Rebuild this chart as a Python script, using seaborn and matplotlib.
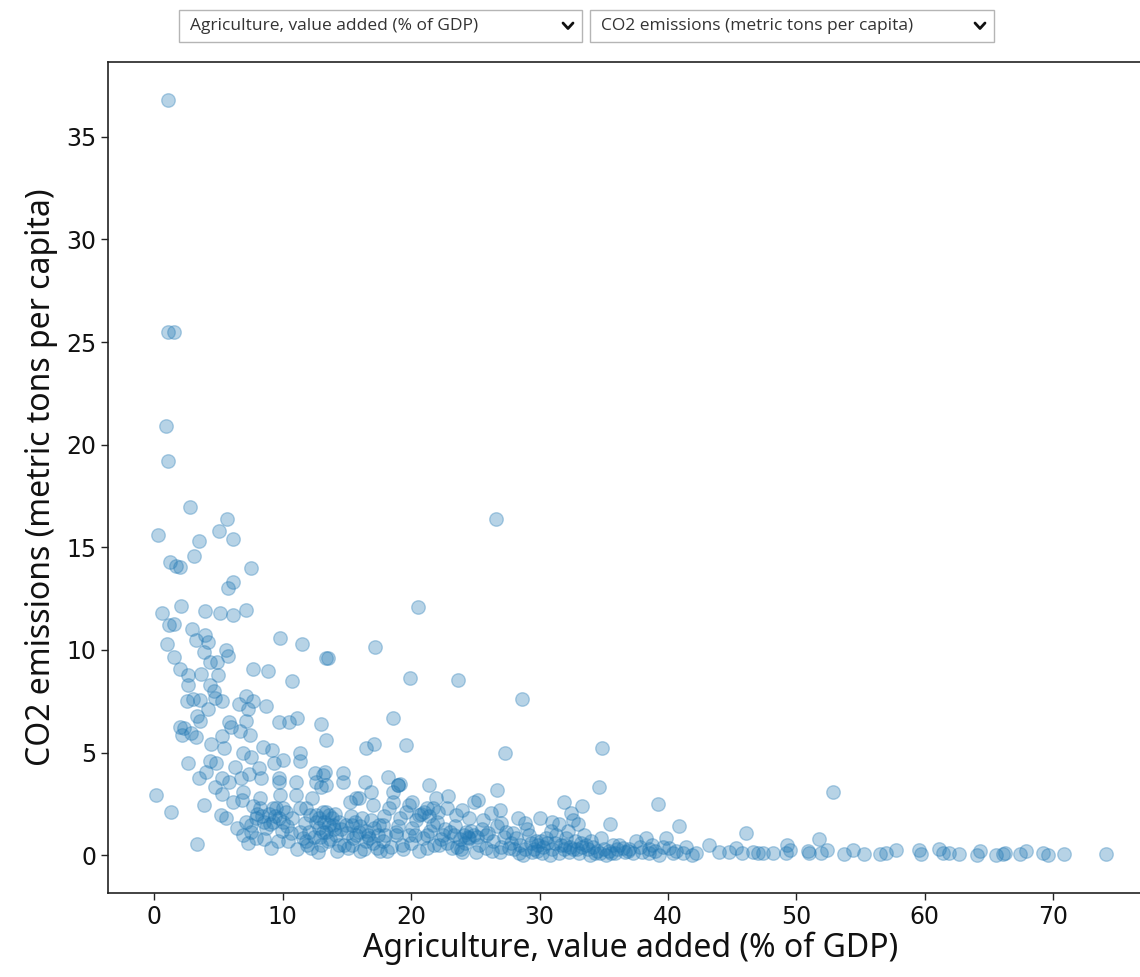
import matplotlib
matplotlib.use("Agg")
import matplotlib.pyplot as plt
from matplotlib.patches import Rectangle
from matplotlib.lines import Line2D
import seaborn as sns
import pandas as pd

# ---- data: (agriculture % of GDP, CO2 metric tons per capita) ----
top_points = [
    (1.04, 36.8), (1.05, 25.5), (1.5, 25.5), (0.93, 20.9), (1.04, 19.2),
    (2.8, 16.95), (5.66, 16.4), (26.6, 16.4), (0.3, 15.6), (5.0, 15.8),
    (6.15, 15.4), (3.45, 15.3), (3.06, 14.6), (1.2, 14.3), (1.7, 14.1),
    (2.0, 14.05), (7.5, 14.0), (6.15, 13.3), (5.7, 13.0), (2.1, 12.15),
    (20.5, 12.1),
]
upper_points = [
    (0.6, 11.8), (3.97, 11.9), (5.1, 11.8), (6.1, 11.7), (7.1, 11.96),
    (1.17, 11.2), (1.5, 11.26), (2.96, 11.0), (9.8, 10.6), (11.5, 10.3),
    (0.96, 10.3), (3.2, 10.5), (3.97, 10.75), (4.2, 10.4), (17.2, 10.15),
    (1.5, 9.65), (3.84, 9.9), (5.6, 9.98), (5.7, 9.7), (13.4, 9.6),
    (13.5, 9.6), (2.0, 9.05), (4.3, 9.4), (4.9, 9.4), (7.7, 9.06),
    (8.85, 8.96), (10.7, 8.5), (2.65, 8.76), (3.6, 8.83), (4.96, 8.8),
    (2.6, 8.27), (4.3, 8.27), (4.6, 8.0), (2.5, 7.5), (3.0, 7.6),
    (3.56, 7.57), (4.2, 7.1), (4.75, 7.67), (5.3, 7.5), (6.6, 7.37),
    (7.1, 7.76), (7.7, 7.5), (8.7, 7.27), (7.3, 7.1), (3.3, 6.76),
    (3.56, 6.56), (5.8, 6.5), (7.1, 6.56), (9.7, 6.5), (10.5, 6.5),
    (11.1, 6.69), (1.95, 6.27), (2.3, 6.2), (2.86, 5.97), (3.2, 5.75),
    (2.15, 5.85), (6.0, 6.23), (6.7, 6.04), (7.45, 5.85), (13.0, 6.37),
    (13.4, 5.6), (18.6, 6.7), (19.9, 8.65), (23.65, 8.56), (28.6, 7.63),
    (5.27, 5.8),
]
mid_points = [
    (4.44, 5.4), (5.43, 5.24), (6.9, 5.0), (7.5, 4.8), (8.43, 5.28),
    (9.17, 5.12), (11.35, 5.0), (16.5, 5.2), (17.1, 5.44), (19.6, 5.36),
    (27.3, 4.96), (34.9, 5.2), (2.6, 4.5), (4.3, 4.58), (4.8, 4.47),
    (6.3, 4.3), (9.3, 4.47), (10.0, 4.63), (11.35, 4.58), (3.45, 3.74),
    (4.0, 4.03), (5.3, 3.77), (5.84, 3.55), (6.78, 3.77), (7.4, 3.98),
    (8.18, 4.23), (8.3, 3.77), (9.68, 3.77), (9.73, 3.55), (11.0, 3.58),
    (12.5, 4.0), (13.3, 4.07), (14.67, 4.0), (14.7, 3.58), (16.4, 3.55),
    (18.2, 3.82), (19.0, 3.42), (12.6, 3.55), (13.0, 3.3), (0.08, 2.93),
    (3.87, 2.45), (4.75, 3.34), (5.3, 3.0), (6.1, 2.6), (6.9, 3.09),
    (6.8, 2.69), (8.2, 2.77), (9.8, 2.93), (11.0, 2.93), (12.3, 2.77),
    (13.37, 3.42), (13.1, 3.9), (15.2, 2.6), (15.7, 2.77), (15.97, 2.77),
    (16.9, 3.09), (17.0, 2.45), (18.56, 2.6), (18.56, 3.09), (18.95, 3.42),
    (19.86, 2.45), (21.4, 3.42), (21.9, 2.77), (19.1, 3.45), (26.7, 3.2),
    (34.6, 3.3), (22.9, 2.9), (25.2, 2.7), (24.9, 2.6), (31.9, 2.6),
    (33.3, 2.4), (39.2, 2.5), (20.1, 2.6), (52.9, 3.1),
]
band_left_points = [
    (1.3, 2.12), (3.3, 0.53), (5.2, 1.96), (5.6, 1.8), (6.4, 1.34),
    (6.9, 0.99), (7.14, 1.63), (7.5, 1.47), (7.9, 0.83), (7.9, 1.8),
    (8.2, 2.28), (8.7, 1.31), (9.06, 0.34), (9.2, 1.64), (9.5, 2.28),
    (10.05, 2.28), (10.25, 2.12), (10.4, 0.67), (10.7, 1.8), (11.3, 1.15),
    (11.6, 0.83), (11.86, 0.5), (12.1, 1.96), (12.6, 1.64), (12.75, 0.18),
    (13.1, 1.15), (13.37, 2.12), (13.5, 0.67), (13.6, 1.47), (14.15, 0.99),
    (14.4, 1.64), (14.8, 0.5), (15.1, 0.34), (15.4, 1.47), (15.7, 0.99),
    (16.2, 1.8), (16.5, 0.67), (17.1, 1.31), (17.3, 0.34), (17.8, 1.47),
    (18.8, 0.99), (19.6, 2.12), (9.2, 2.28), (8.57, 1.64), (9.73, 1.8),
    (7.5, 1.15), (11.3, 2.28), (11.8, 2.28), (11.7, 1.55), (12.07, 1.15),
    (11.8, 0.67), (12.2, 0.34), (12.6, 1.96), (12.85, 1.31), (13.1, 2.12),
    (13.37, 1.15), (13.6, 1.96), (13.9, 1.47), (14.4, 0.5), (14.9, 1.47),
    (15.45, 0.83), (15.97, 1.15), (16.7, 0.83), (17.5, 1.47), (17.8, 0.67),
    (18.3, 2.28), (18.8, 1.15), (19.1, 1.8), (19.3, 0.5), (20.1, 1.31),
    (20.6, 1.96), (20.9, 0.83), (21.2, 2.28), (21.7, 1.47),
]
band_right_points = [
    (21.0, 2.12), (21.7, 2.28), (22.8, 2.28), (23.5, 1.96), (24.0, 2.2),
    (24.5, 1.8), (25.6, 1.71), (26.2, 2.04), (26.9, 2.2), (27.0, 1.56),
    (28.3, 1.8), (28.9, 1.56), (30.0, 1.8), (31.0, 1.64), (32.45, 2.04),
    (32.6, 1.71), (33.0, 1.5), (35.5, 1.5), (40.9, 1.44),
    (21.2, 0.99), (22.45, 0.99), (23.0, 1.15), (24.3, 1.15), (24.5, 0.83),
    (24.9, 0.99), (26.0, 1.07), (27.4, 1.15), (28.2, 0.83), (29.2, 0.99),
    (29.7, 0.67), (30.5, 0.83), (31.3, 0.99), (32.1, 0.83), (32.8, 0.67),
    (33.6, 0.5), (34.8, 0.83), (35.7, 0.5), (36.5, 0.34), (37.5, 0.67),
    (38.3, 0.83), (38.8, 0.5), (39.85, 0.83), (40.1, 0.34), (41.4, 0.42),
    (21.2, 0.34), (22.2, 0.5), (23.2, 0.34), (24.0, 0.18), (25.05, 0.18),
    (25.8, 0.34), (26.9, 0.18), (27.6, 0.34), (28.4, 0.1), (28.7, 0.01),
    (29.45, 0.18), (30.2, 0.1), (30.8, 0.01), (31.5, 0.1), (32.3, 0.18),
    (33.1, 0.1), (33.9, 0.01), (34.7, 0.1), (35.2, 0.01), (35.9, 0.1),
    (36.7, 0.18), (37.25, 0.1), (38.0, 0.18), (38.55, 0.1), (39.3, 0.01),
    (40.4, 0.1), (41.15, 0.1), (41.9, 0.01),
]
band_dense_points = [
    (8.0, 2.0), (8.4, 1.9), (8.9, 2.0), (9.4, 1.9), (10.0, 1.6), (10.3, 1.4),
    (7.7, 2.4), (9.0, 1.5), (12.8, 1.8), (13.2, 1.6), (13.8, 1.8), (14.1, 2.0),
    (14.5, 1.3), (12.9, 0.9), (13.7, 0.8), (15.3, 1.9), (15.6, 1.6), (16.0, 1.4),
    (16.5, 1.2), (16.9, 1.7), (17.4, 1.0), (17.9, 1.9), (15.0, 1.1), (16.3, 0.3),
    (17.6, 0.2), (18.4, 0.4), (20.8, 2.0), (21.4, 1.9), (20.4, 1.7), (22.0, 1.6),
    (22.6, 1.3), (23.4, 1.4), (20.0, 0.6), (19.8, 1.0), (23.8, 0.8), (24.2, 0.6),
    (24.7, 1.2), (25.1, 0.9), (25.3, 0.5), (23.6, 0.4), (25.5, 1.3), (26.4, 0.7),
    (26.7, 1.4), (27.8, 0.6), (27.2, 0.9), (28.5, 0.5), (28.9, 0.3), (29.3, 0.6),
    (29.6, 0.3), (29.9, 0.5), (30.3, 0.4), (30.6, 0.6), (31.0, 0.3), (31.7, 0.5),
    (31.9, 0.3), (32.4, 0.4), (32.9, 0.3), (33.3, 0.4), (33.8, 0.3), (34.2, 0.4),
    (34.5, 0.2), (35.0, 0.3), (35.4, 0.2), (36.0, 0.3), (36.2, 0.5), (37.0, 0.3),
    (37.8, 0.4), (38.5, 0.3), (39.0, 0.2), (39.6, 0.4), (40.6, 0.2), (30.9, 1.2),
    (32.2, 1.2), (33.5, 1.0), (34.0, 0.7), (29.0, 1.3), (27.9, 1.1), (31.5, 1.5),
    (26.3, 0.2), (27.0, 0.4), (22.8, 0.6), (23.9, 0.3), (21.8, 0.5), (20.6, 0.2),
    (19.4, 0.3), (18.1, 0.2), (17.0, 0.6), (16.0, 0.2), (15.4, 0.5), (14.2, 0.2),
    (12.4, 0.9), (11.1, 0.3), (10.6, 1.1), (9.6, 0.7), (8.5, 0.8), (7.3, 0.6),
    (24.1, 1.0), (24.4, 0.9), (23.3, 1.0), (22.3, 0.8), (21.5, 1.2), (25.8, 1.0),
    (28.0, 0.3), (29.8, 0.2), (30.1, 0.7), (31.2, 0.6), (32.0, 0.5), (32.6, 0.3),
    (33.2, 0.6), (34.3, 0.1), (35.6, 0.1), (36.9, 0.2), (14.0, 1.3), (13.0, 0.5),
    (16.6, 1.0), (18.0, 1.0), (19.0, 1.4), (20.3, 1.0), (22.1, 2.1), (9.9, 1.2),
]
tail_points = [
    (42.2, 0.1), (43.2, 0.5), (44.0, 0.18), (44.8, 0.18), (45.3, 0.34),
    (46.6, 0.18), (48.2, 0.1), (46.1, 1.07), (45.8, 0.1), (47.0, 0.1),
    (47.4, 0.1), (49.2, 0.1), (49.5, 0.25), (49.3, 0.5), (50.9, 0.2),
    (51.0, 0.1), (51.8, 0.8), (51.9, 0.1), (52.4, 0.25), (53.7, 0.05),
    (54.4, 0.25), (55.3, 0.05), (56.5, 0.05), (57.0, 0.1), (57.8, 0.25),
    (59.6, 0.25), (59.7, 0.05), (61.1, 0.3), (61.4, 0.1), (61.9, 0.1),
    (62.7, 0.05), (64.1, 0.0), (64.3, 0.2), (65.6, 0.0), (66.1, 0.05),
    (66.3, 0.1), (67.4, 0.05), (67.9, 0.2), (69.2, 0.1), (69.6, 0.0),
    (70.9, 0.05), (74.1, 0.05),
]

x_label = "Agriculture, value added (% of GDP)"
y_label = "CO2 emissions (metric tons per capita)"
dropdown_labels = [x_label, y_label]

all_points = (top_points + upper_points + mid_points + band_left_points
              + band_right_points + band_dense_points + tail_points)
df = pd.DataFrame(all_points, columns=[x_label, y_label])

# ---- figure ----
sns.set_style("ticks")
plt.rcParams["font.family"] = ["DejaVu Sans"]

W, H = 1140, 977
fig = plt.figure(figsize=(W / 100, H / 100), dpi=100)
ax = fig.add_axes([108 / W, (H - 893) / H, (1153 - 108) / W, (893 - 62) / H])

sns.scatterplot(data=df, x=x_label, y=y_label, ax=ax,
                color="#1f77b4", alpha=0.32, s=95,
                edgecolor="#1f77b4", linewidth=1.0, legend=False)

for sp in ax.spines.values():
    sp.set_visible(True)
    sp.set_color("#222222")
    sp.set_linewidth(1.2)

ax.set_xticks([0, 10, 20, 30, 40, 50, 60, 70])
ax.set_yticks([0, 5, 10, 15, 20, 25, 30, 35])
ax.tick_params(axis="both", labelsize=17, length=5, width=1, color="#222222",
               labelcolor="#111111")
ax.set_xlabel(x_label, fontsize=23, family=["Noto Sans", "DejaVu Sans"],
              color="#111111", labelpad=2)
ax.set_ylabel(y_label, fontsize=23, family=["Noto Sans", "DejaVu Sans"],
              color="#111111", labelpad=6)

# ---- dropdown widgets above the chart ----
boxes = [(179, 582), (590, 994)]
for (x0, x1), label in zip(boxes, dropdown_labels):
    fig.patches.append(Rectangle((x0 / W, 1 - 42 / H), (x1 - x0) / W, 32 / H,
                                 transform=fig.transFigure, facecolor="white",
                                 edgecolor="#b5b5b5", linewidth=1.0))
    fig.text((x0 + 11) / W, 1 - 26 / H, label, fontsize=12.5,
             family=["Open Sans", "DejaVu Sans"], color="#333333",
             va="center", ha="left")
    cx = x1 - 14
    fig.lines.append(Line2D([(cx - 5) / W, cx / W, (cx + 5) / W],
                            [1 - 23 / H, 1 - 28.5 / H, 1 - 23 / H],
                            transform=fig.transFigure, color="#111111",
                            linewidth=2.0, solid_capstyle="round",
                            solid_joinstyle="round"))

fig.savefig("out.png", dpi=100)
